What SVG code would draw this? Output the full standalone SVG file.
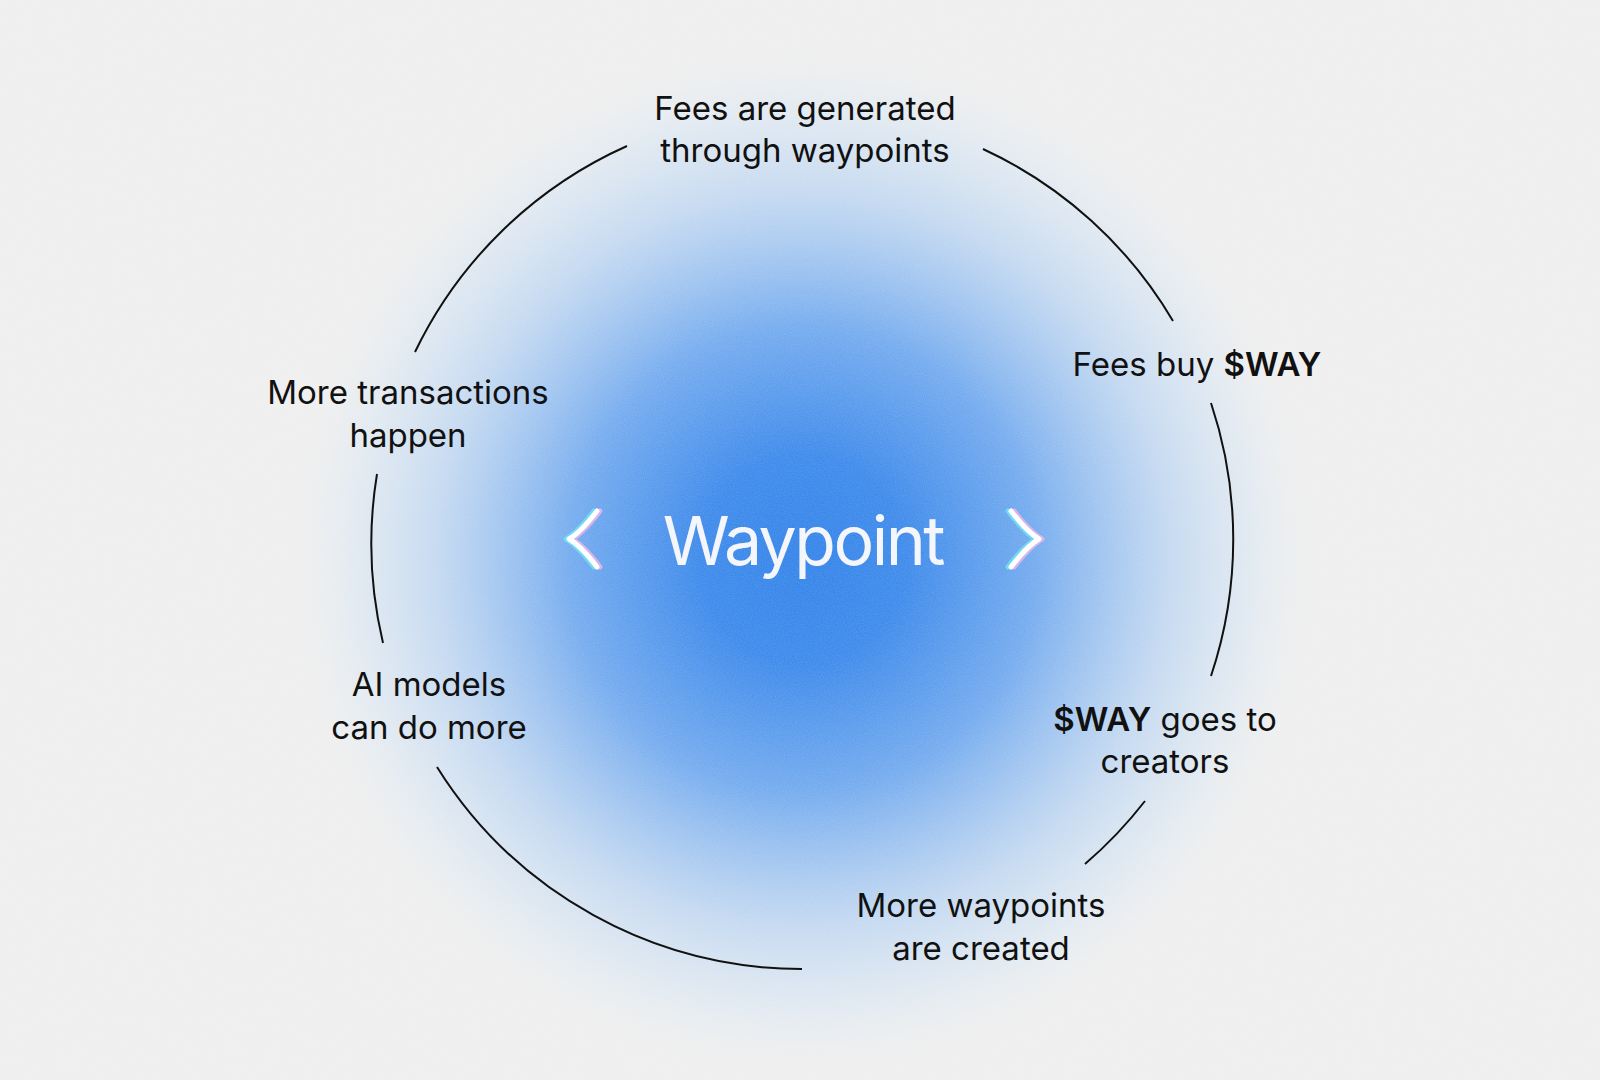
<svg xmlns="http://www.w3.org/2000/svg" width="1600" height="1080" viewBox="0 0 1600 1080">
<defs>
<radialGradient id="glow" cx="803" cy="560" r="520" gradientUnits="userSpaceOnUse">
<stop offset="0" stop-color="#2a7ee8"/>
<stop offset="0.2" stop-color="#3585ea"/>
<stop offset="0.45" stop-color="#6fa8ee"/>
<stop offset="0.7" stop-color="#b5d1f1" stop-opacity="0.8"/>
<stop offset="0.88" stop-color="#dbe7f2" stop-opacity="0.6"/>
<stop offset="1" stop-color="#eeeeee" stop-opacity="0"/>
</radialGradient>
<filter id="noise" x="0" y="0" width="100%" height="100%">
<feTurbulence type="fractalNoise" baseFrequency="0.9" numOctaves="2" seed="3"/>
<feColorMatrix values="0 0 0 0 1  0 0 0 0 1  0 0 0 0 1  0 0 0 0.18 0"/>
</filter>
<style>
.lbl{font-family:Inter,"Liberation Sans",sans-serif;font-size:33px;fill:#111;text-anchor:middle}
.b{font-weight:600}
.arc{fill:none;stroke:#111;stroke-width:2}
.chev{fill:none;stroke-linecap:round;stroke-linejoin:round;stroke-width:5}
</style>
</defs>
<rect width="1600" height="1080" fill="#eeeeee"/>
<rect width="1600" height="1080" fill="url(#glow)"/>
<rect width="1600" height="1080" filter="url(#noise)"/>
<g id="connectors">
<path class="arc" d="M627,146 A430,430 0 0 0 415,352"/>
<path class="arc" d="M983,149 A430,430 0 0 1 1173,321"/>
<path class="arc" d="M1211,403 A430,430 0 0 1 1211,676"/>
<path class="arc" d="M1145,801 A430,430 0 0 1 1085,864"/>
<path class="arc" d="M802,969 A430,430 0 0 1 437,767"/>
<path class="arc" d="M383,643 A430,430 0 0 1 377,474"/>
</g>
<g id="center">
<path class="chev" stroke="#6fe6f0" d="M594,511 Q578,532 566,539 Q578,546 594,567" opacity="0.8"/>
<path class="chev" stroke="#f2b6e8" d="M600,511 Q584,532 572,539 Q584,546 600,567" opacity="0.8"/>
<path class="chev" stroke="#ffffff" d="M597,511 Q581,532 569,539 Q581,546 597,567" stroke-width="3.5"/>
<path class="chev" stroke="#6fe6f0" d="M1008,511 Q1024,532 1036,539 Q1024,546 1008,567" opacity="0.8"/>
<path class="chev" stroke="#f2b6e8" d="M1014,511 Q1030,532 1042,539 Q1030,546 1014,567" opacity="0.8"/>
<path class="chev" stroke="#ffffff" d="M1011,511 Q1027,532 1039,539 Q1027,546 1011,567" stroke-width="3.5"/>
<text x="803" y="565" font-family="Inter,'Liberation Sans',sans-serif" font-size="68" fill="#f4f6fb" text-anchor="middle" letter-spacing="-2.5">Waypoint</text>
</g>
<g id="n1"><text class="lbl" x="805" y="120">Fees are generated</text><text class="lbl" x="805" y="162">through waypoints</text></g>
<g id="n2"><text class="lbl" x="1197" y="376">Fees buy <tspan class="b">$WAY</tspan></text></g>
<g id="n3"><text class="lbl" x="1165" y="731"><tspan class="b">$WAY</tspan> goes to</text><text class="lbl" x="1165" y="773">creators</text></g>
<g id="n4"><text class="lbl" x="981" y="917">More waypoints</text><text class="lbl" x="981" y="960">are created</text></g>
<g id="n5"><text class="lbl" x="429" y="696">AI models</text><text class="lbl" x="429" y="739">can do more</text></g>
<g id="n6"><text class="lbl" x="408" y="404">More transactions</text><text class="lbl" x="408" y="447">happen</text></g>
</svg>
